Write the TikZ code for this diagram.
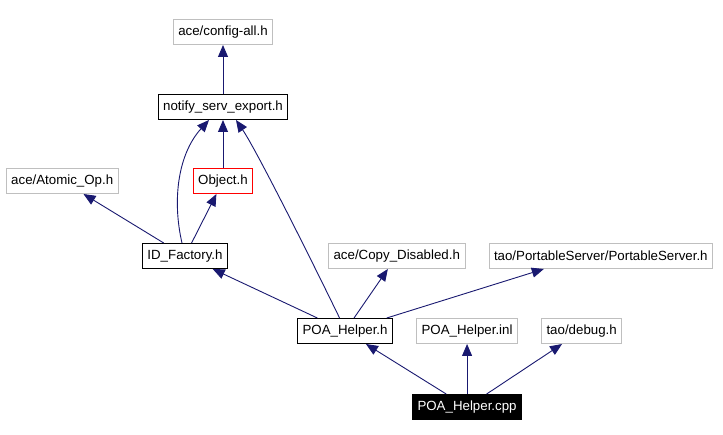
\documentclass[tikz,border=0pt]{standalone}
\usepackage{fontspec}
\setmainfont{Liberation Sans}
\usetikzlibrary{positioning, arrows.meta}
\definecolor{edgeblue}{HTML}{191970}
\definecolor{extgray}{HTML}{BFBFBF}

\begin{document}
\begin{tikzpicture}[x=1pt, y=1pt, node distance=23pt,
  hdr/.style={draw, line width=1pt, minimum height=25pt, inner xsep=5pt, inner ysep=0pt,
    font=\fontsize{13.3}{16}\selectfont},
  extern/.style={hdr, draw=extgray},
  inc/.style={edgeblue, line width=0.9pt, -{Triangle[length=12pt, width=10pt]}}]
  \useasboundingbox (0,0) rectangle (723,-435);

  \node[hdr] (notify) at (223,-107) {notify\_serv\_export.h};
  \node[extern, above=49pt of notify] (config) {ace/config-all.h};
  \node[hdr, draw=red, below=48pt of notify] (object) {Object.h};
  \node[extern, left=74pt of object] (atomic) {ace/Atomic\_Op.h};
  \node[hdr, below=49pt of object, xshift=-38pt] (idf) {ID\_Factory.h};
  \node[hdr, below right=49pt and 69pt of idf] (poah) {POA\_Helper.h};
  \node[extern, right=100pt of idf] (copyd) {ace/Copy\_Disabled.h};
  \node[extern, right=of copyd] (psrv) {tao/PortableServer/PortableServer.h};
  \node[extern, right=of poah] (inl) {POA\_Helper.inl};
  \node[extern, right=of inl] (debug) {tao/debug.h};
  \node[hdr, fill=black, text=white, below=50pt of inl] (cpp) {POA\_Helper.cpp};

  \draw[inc] (notify) -- (config);
  \draw[inc] (object) -- (notify);
  \draw[inc] (idf) -- (atomic);
  \draw[inc] (idf) -- (object);
  \draw[inc] ([xshift=-3pt]idf.north) .. controls +(-10,43) and +(-31,-34) .. ([xshift=-14pt]notify.south);
  \draw[inc] (poah) -- (idf);
  \draw[inc] ([xshift=-5.5pt]poah.north) .. controls +(-38,78) and +(19,-28) .. ([xshift=13pt]notify.south);
  \draw[inc] (poah) -- (copyd);
  \draw[inc] (poah) -- ([xshift=-57pt]psrv.south);
  \draw[inc] (cpp) -- (poah);
  \draw[inc] (cpp) -- (inl);
  \draw[inc] (cpp) -- (debug);
\end{tikzpicture}
\end{document}
